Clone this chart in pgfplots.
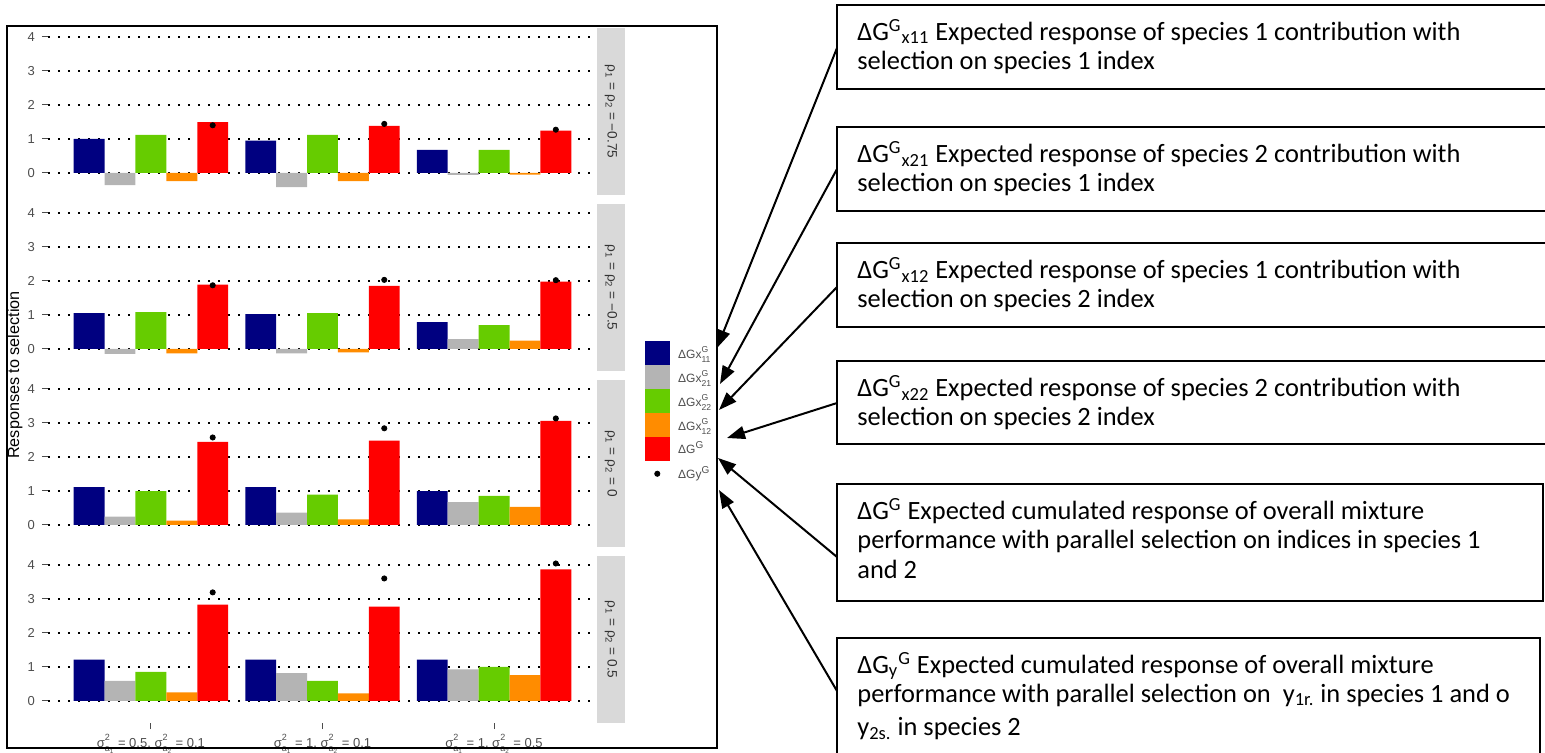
\documentclass[border=0pt]{standalone}
\usepackage{fontspec}
\setmainfont{Liberation Sans}
\newfontfamily\calib{Carlito}
\usepackage{pgfplots}
\usepackage{pgfplotstable}
\pgfplotsset{compat=1.18}
\usetikzlibrary{arrows.meta}

\definecolor{cnavy}{HTML}{000080}
\definecolor{cgrey}{HTML}{B4B4B4}
\definecolor{cgreen}{HTML}{66CC00}
\definecolor{corange}{HTML}{FF8C00}
\definecolor{cred}{HTML}{FF0000}
\definecolor{stripgray}{HTML}{D9D9D9}
\definecolor{axtext}{HTML}{4D4D4D}

% rho1 = rho2 = -0.75
\pgfplotstableread{
x x11 x21 x22 x12 G Gy
1 1.00 -0.36 1.12 -0.24 1.49 1.40
2 0.95 -0.42 1.12 -0.24 1.385 1.44
3 0.68 -0.06 0.68 -0.05 1.24 1.27
}\tA
% rho1 = rho2 = -0.5
\pgfplotstableread{
x x11 x21 x22 x12 G Gy
1 1.05 -0.15 1.08 -0.13 1.89 1.87
2 1.02 -0.13 1.05 -0.10 1.85 2.03
3 0.79 0.29 0.70 0.24 1.98 2.02
}\tB
% rho1 = rho2 = 0
\pgfplotstableread{
x x11 x21 x22 x12 G Gy
1 1.11 0.24 0.99 0.125 2.44 2.57
2 1.11 0.36 0.89 0.16 2.48 2.84
3 0.99 0.67 0.85 0.53 3.06 3.13
}\tC
% rho1 = rho2 = 0.5
\pgfplotstableread{
x x11 x21 x22 x12 G Gy
1 1.21 0.59 0.85 0.25 2.83 3.19
2 1.21 0.82 0.59 0.22 2.77 3.60
3 1.21 0.93 1.00 0.76 3.87 4.04
}\tD

\pgfplotsset{
  panel/.style={
    scale only axis, width=274.5pt, height=83.5pt,
    xmin=0.4, xmax=3.6, ymin=-0.65, ymax=4.26,
    axis line style={draw=none},
    ytick={0,1,2,3,4}, ytick pos=left, xtick pos=bottom,
    xtick=\empty,
    tick align=outside, major tick length=3pt,
    tick style={axtext, line width=0.5pt},
    ymajorgrids,
    major grid style={black, line width=1.1pt, dash pattern=on 1.1pt off 3.9pt},
    /pgf/number format/assume math mode=true,
    ticklabel style={font=\fontsize{6.5}{7.5}\selectfont, text=axtext},
  },
  bx/.style={ybar, bar width=0.18, draw=none, fill=#1,
    legend image code/.code={\fill[#1] (0pt,-6pt) rectangle (12.5pt,6pt);}},
}

\newcommand\panelplots[1]{%
  \addplot[bx=cnavy, bar shift=-0.36] table[x=x,y=x11]{#1};
  \addplot[bx=cgrey, bar shift=-0.18] table[x=x,y=x21]{#1};
  \addplot[bx=cgreen, bar shift=0] table[x=x,y=x22]{#1};
  \addplot[bx=corange, bar shift=0.18] table[x=x,y=x12]{#1};
  \addplot[bx=cred, bar shift=0.36] table[x=x,y=G]{#1};
  \addplot[only marks, mark=*, mark size=1.3pt, black,
    legend image code/.code={\fill[white, opacity=0] (0pt,-6pt) rectangle (12.5pt,6pt); \fill[black] (6.25pt,0pt) circle (1.3pt);}]
    table[x expr=\thisrow{x}+0.36, y=Gy]{#1};
}

% stacked super/subscripts in one box: #1 size, #2 skip, #3 lowering, #4 top, #5 bottom
\newcommand\stk[5]{\raisebox{-#3}{\fontsize{#1}{#2}\selectfont\begin{tabular}[b]{@{}l@{}}#4\\#5\end{tabular}}}
\newcommand\sig[1]{σ\stk{4.5pt}{5.3pt}{1.8pt}{2}{a\textsubscript{#1}}}
\newcommand\lgk[1]{ΔGx\stk{4.3pt}{5pt}{1.7pt}{G}{#1}}

\begin{document}
\begin{tikzpicture}
\path[use as bounding box] (0pt,0pt) rectangle (772.5pt,-376.5pt);

\begin{axis}[panel, name=p1, at={(24pt,-14pt)}, anchor=north west,
  legend style={at={(1.0856,-0.874)}, anchor=north west, draw=none, fill=none,
    inner sep=0pt, row sep=0pt, column sep=3.5pt,
    font=\fontsize{6}{7}\selectfont, text=axtext,
    nodes={inner sep=0.5pt}},
  legend cell align=left,
  legend entries={{\lgk{11}},{\lgk{21}},{\lgk{22}},{\lgk{12}},{ΔG\textsuperscript{G}},{ΔGy\textsuperscript{G}}}]
\panelplots{\tA}
\end{axis}

\begin{axis}[panel, name=p2, at={(24pt,-102pt)}, anchor=north west]
\panelplots{\tB}
\end{axis}

\begin{axis}[panel, name=p3, at={(24pt,-190pt)}, anchor=north west]
\panelplots{\tC}
\end{axis}

\begin{axis}[panel, name=p4, at={(24pt,-278pt)}, anchor=north west,
  xtick={1,2,3},
  xticklabel style={yshift=1.5pt},
  xticklabels={{\sig{1} = 0.5, \sig{2} = 0.1},{\sig{1} = 1, \sig{2} = 0.1},{\sig{1} = 1, \sig{2} = 0.5}}]
\panelplots{\tD}
\end{axis}

% facet strips
\foreach \p/\v in {p1/−0.75, p2/−0.5, p3/0, p4/0.5}{
  \fill[stripgray] (\p.north east) rectangle ([xshift=14pt]\p.south east);
  \node[rotate=-90, font=\fontsize{6.8}{7.5}\selectfont, text=black!80] at ([xshift=7pt]\p.east)
    {ρ\textsubscript{1} = ρ\textsubscript{2} = \v};
}

\begin{scope}[x=0.5pt, y=-0.5pt]
% y label
\node[rotate=90, font=\fontsize{8.1}{9}\selectfont] at (15,375) {Responses to selection};
% frame
\draw[line width=0.75pt] (7,26) rectangle (717,748);

% annotation boxes
\draw[line width=0.6pt] (837,5) rectangle (1560,89);
\draw[line width=0.6pt] (837,127) rectangle (1560,211);
\draw[line width=0.6pt] (837,243) rectangle (1560,327);
\draw[line width=0.6pt] (837,361) rectangle (1560,444);
\draw[line width=0.6pt] (837,484) rectangle (1543,601);
\draw[line width=0.6pt] (837,638) rectangle (1540,770);

\begin{scope}[every node/.style={anchor=mid west, inner sep=0pt, font=\calib\fontsize{13.2}{15}\selectfont}]
\node at (857,35) {ΔG\textsuperscript{G}\textsubscript{x11} Expected response of species 1 contribution with};
\node at (857,64) {selection on species 1 index};
\node at (857,157) {ΔG\textsuperscript{G}\textsubscript{x21} Expected response of species 2 contribution with};
\node at (857,186) {selection on species 1 index};
\node at (857,273) {ΔG\textsuperscript{G}\textsubscript{x12} Expected response of species 1 contribution with};
\node at (857,302) {selection on species 2 index};
\node at (857,391) {ΔG\textsuperscript{G}\textsubscript{x22} Expected response of species 2 contribution with};
\node at (857,420) {selection on species 2 index};
\node at (857,514) {ΔG\textsuperscript{G} Expected cumulated response of overall mixture};
\node at (857,543) {performance with parallel selection on indices in species 1};
\node at (857,573) {and 2};
\node at (857,668) {ΔG\textsubscript{y}\textsuperscript{G} Expected cumulated response of overall mixture};
\node at (857,697) {performance with parallel selection on \ y\textsubscript{1r.} in species 1 and o};
\node at (857,730) {y\textsubscript{2s.} in species 2};
\end{scope}

% arrows
\begin{scope}[line width=1pt, -{Triangle[length=9pt,width=6.5pt]}]
\draw (837,48) -- (717,348);
\draw (837,169) -- (720,384);
\draw (837,287) -- (719,410);
\draw (837,403) -- (727,438);
\draw (837,557) -- (718,458);
\draw (837,691) -- (719,490);
\end{scope}
\end{scope}
\end{tikzpicture}
\end{document}
